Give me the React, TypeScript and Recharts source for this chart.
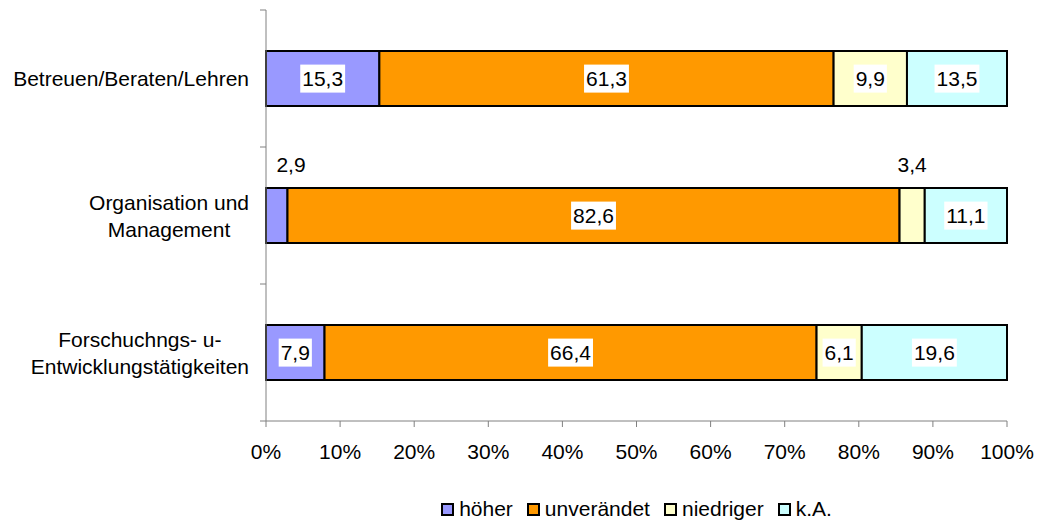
import React from 'react';
import { BarChart, Bar, XAxis, YAxis, Legend, LabelList } from 'recharts';

// categories (line breaks as in the original axis labels)
const categories = [
  'Betreuen/Beraten/Lehren',
  'Organisation und\nManagement',
  'Forschuchngs- u-\nEntwicklungstätigkeiten',
];

// values in percent
const hoeher = [15.3, 2.9, 7.9];
const unveraendert = [61.3, 82.6, 66.4];
const niedriger = [9.9, 3.4, 6.1];
const keineAngabe = [13.5, 11.1, 19.6];

const xTicks = [0, 10, 20, 30, 40, 50, 60, 70, 80, 90, 100];

const seriesKeys = ['hoeher', 'unveraendert', 'niedriger', 'keineAngabe'];
const seriesNames = ['höher', 'unverändet', 'niedriger', 'k.A.'];
const seriesColors = ['#9999FF', '#FF9900', '#FFFFCC', '#CCFFFF'];

const data = categories.map((name, i) => ({
  name,
  hoeher: hoeher[i],
  unveraendert: unveraendert[i],
  niedriger: niedriger[i],
  keineAngabe: keineAngabe[i],
}));

const FONT = '"Liberation Sans", Arial, sans-serif';
const FONT_SIZE = 21;
const AXIS_COLOR = '#808080';
const Y_AXIS_WIDTH = 266;

let ctx: CanvasRenderingContext2D | null = null;
const measure = (s: string) => {
  if (!ctx) ctx = document.createElement('canvas').getContext('2d');
  if (!ctx) return s.length * FONT_SIZE * 0.55;
  ctx.font = `${FONT_SIZE}px ${FONT}`;
  return ctx.measureText(s).width;
};

const fmt = (v: number) => v.toFixed(1).replace('.', ',');

const ValueLabel = (props: any) => {
  const vb = props.viewBox || props;
  const x = Number(vb.x);
  const y = Number(vb.y);
  const w = Number(vb.width);
  const h = Number(vb.height);
  const v = Number(props.value);
  const text = fmt(v);
  if (v < 5) {
    // small segments: label sits above the bar, kept clear of the axis
    const cx = Math.max(x + w / 2, Y_AXIS_WIDTH + 25);
    return (
      <text x={cx} y={y - 16} textAnchor="middle" fontSize={FONT_SIZE} fontFamily={FONT} fill="#000">
        {text}
      </text>
    );
  }
  const tw = measure(text);
  const cx = x + w / 2;
  const cy = y + h / 2;
  return (
    <g>
      <rect x={cx - tw / 2 - 2} y={cy - 14} width={tw + 4} height={28} fill="#fff" />
      <text x={cx} y={cy + 7.5} textAnchor="middle" fontSize={FONT_SIZE} fontFamily={FONT} fill="#000">
        {text}
      </text>
    </g>
  );
};

const CategoryTick = (props: any) => {
  const { x, y, payload, index } = props;
  const lines = String(payload.value).split('\n');
  const maxW = Math.max(...lines.map(measure));
  const cx = x - maxW / 2;
  const lh = 27;
  const first = y + 7.5 - ((lines.length - 1) * lh) / 2;
  const axisX = x + 17;
  const half = payload.offset ? payload.offset : 68.5;
  return (
    <g>
      <line x1={axisX - 6} x2={axisX} y1={y - half} y2={y - half} stroke={AXIS_COLOR} />
      {index === categories.length - 1 && (
        <line x1={axisX - 6} x2={axisX} y1={y + half} y2={y + half} stroke={AXIS_COLOR} />
      )}
      {lines.map((l, i) => (
        <text key={i} x={cx} y={first + i * lh} textAnchor="middle" fontSize={FONT_SIZE} fontFamily={FONT} fill="#000">
          {l}
        </text>
      ))}
    </g>
  );
};

const LegendContent = () => (
  <div
    style={{
      display: 'flex',
      justifyContent: 'center',
      alignItems: 'center',
      height: 36,
      paddingTop: 10,
      boxSizing: 'border-box',
      fontFamily: FONT,
      fontSize: FONT_SIZE,
      color: '#000',
    }}
  >
    {seriesNames.map((n, i) => (
      <span key={n} style={{ display: 'flex', alignItems: 'center', marginRight: i < seriesNames.length - 1 ? 14 : 0 }}>
        <span
          style={{
            width: 9,
            height: 9,
            border: '2px solid #000',
            background: seriesColors[i],
            marginRight: 5,
            display: 'inline-block',
          }}
        />
        {n}
      </span>
    ))}
  </div>
);

export default function App() {
  return (
    <div style={{ position: 'absolute', left: 0, top: 0, background: '#fff' }}>
      <BarChart
        width={1037}
        height={522}
        data={data}
        layout="vertical"
        margin={{ top: 10, right: 30, bottom: 0, left: 0 }}
        barCategoryGap="30%"
        style={{ fontFamily: FONT }}
      >
        <XAxis
          type="number"
          domain={[0, 100]}
          ticks={xTicks}
          interval={0}
          tickFormatter={(v: number) => `${v}%`}
          tickSize={6}
          tickMargin={17}
          height={65}
          axisLine={{ stroke: AXIS_COLOR }}
          tickLine={{ stroke: AXIS_COLOR }}
          tick={{ fill: '#000', fontSize: FONT_SIZE, fontFamily: FONT }}
        />
        <YAxis
          type="category"
          dataKey="name"
          width={Y_AXIS_WIDTH}
          interval={0}
          tickSize={6}
          tickMargin={11}
          tickLine={false}
          axisLine={{ stroke: AXIS_COLOR }}
          tick={<CategoryTick />}
        />
        <Legend
          verticalAlign="bottom"
          height={36}
          wrapperStyle={{ left: Y_AXIS_WIDTH, width: 741 }}
          content={() => <LegendContent />}
        />
        {seriesKeys.map((k, i) => (
          <Bar
            key={k}
            dataKey={k}
            name={seriesNames[i]}
            stackId="a"
            fill={seriesColors[i]}
            stroke="#000"
            strokeWidth={2}
            isAnimationActive={false}
          >
            <LabelList dataKey={k} content={<ValueLabel />} />
          </Bar>
        ))}
      </BarChart>
    </div>
  );
}
